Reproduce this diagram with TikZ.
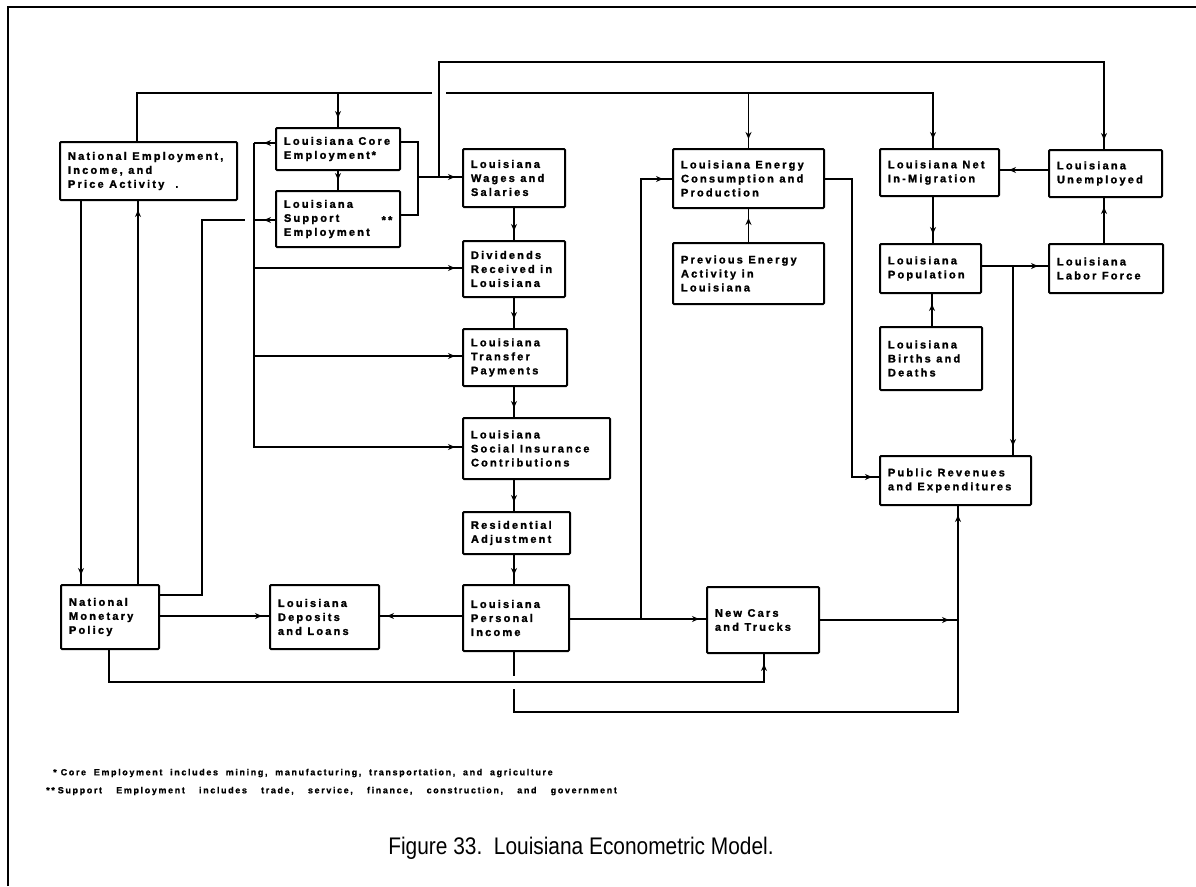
\documentclass[tikz,border=0pt]{standalone}
\usepackage{fontspec}
\setmainfont{Liberation Sans}
\newfontfamily\boxfont{Liberation Sans Bold}[LetterSpace=20, FakeBold=1.5]
\newfontfamily\fnfont{Liberation Sans Bold}[LetterSpace=18, FakeBold=1]
\newcommand\wsp{\hspace{5.5pt}}
\usetikzlibrary{arrows.meta,decorations.markings}
\newcommand\boxat[6]{%
  \pgfmathsetmacro\bxW{#4-#2}%
  \pgfmathsetmacro\bxH{#5-#3}%
  \pgfmathsetmacro\bxT{#4-#2-16}%
  \node[box, anchor=north west, minimum width=\bxW pt, minimum height=\bxH pt, text width=\bxT pt] (#1) at (#2,#3) {#6};}
\begin{document}
\begin{tikzpicture}[x=1pt,y=-1pt,
  box/.style={draw, line width=2pt, rectangle, rounded corners=1pt, inner sep=2pt, align=left,
    font={\boxfont\fontsize{11pt}{14pt}\selectfont}},
  conn/.style={line width=1.5pt},
  arr/.style={postaction={decorate}, decoration={markings, mark=at position -#1 with {\arrow{Stealth[length=7pt,width=6pt]}}}},
  arr/.default=7pt,
  fn/.style={font={\fnfont\fontsize{9pt}{10pt}\selectfont}, inner sep=0pt},
  captext/.style={font={\fontsize{24pt}{28pt}\selectfont}, inner sep=0pt}]
\useasboundingbox (0,0) rectangle (1196,886);
\fill[white] (0,0) rectangle (1196,886);
% frame
\draw[line width=2.2pt] (8,886) -- (8,7) -- (1196,7);
% boxes
\boxat{NatEmp}{59}{141}{236}{199}{National\wsp Employment,\\Income,\wsp and\\Price\wsp Activity\wsp\wsp .}
\boxat{Core}{275}{127}{399}{169}{Louisiana\wsp Core\\Employment\,*}
\boxat{Support}{275}{190}{399}{246}{Louisiana\\Support\\Employment}
\boxat{Wages}{462}{148}{564}{206}{Louisiana\\Wages\wsp and\\Salaries}
\boxat{Dividends}{462}{240}{564}{296}{Dividends\\Received\wsp in\\Louisiana}
\boxat{Transfer}{462}{328}{566}{385}{Louisiana\\Transfer\\Payments}
\boxat{Social}{462}{417}{609}{478}{Louisiana\\Social\wsp Insurance\\Contributions}
\boxat{Residential}{462}{511}{569}{553}{Residential\\Adjustment}
\boxat{PI}{462}{584}{568}{650}{Louisiana\\Personal\\Income}
\boxat{NMP}{60}{584}{158}{648}{National\\Monetary\\Policy}
\boxat{Deposits}{269}{584}{378}{648}{Louisiana\\Deposits\\and\wsp Loans}
\boxat{NewCars}{706}{586}{818}{652}{New\wsp Cars\\and\wsp Trucks}
\boxat{Energy}{672}{148}{823}{207}{Louisiana\wsp Energy\\Consumption\wsp and\\Production}
\boxat{PrevEnergy}{672}{242}{823}{303}{Previous\wsp Energy\\Activity\wsp in\\Louisiana}
\boxat{NetMig}{879}{148}{998}{195}{Louisiana\wsp Net\\In-Migration}
\boxat{Unemployed}{1048}{149}{1161}{196}{Louisiana\\Unemployed}
\boxat{Population}{879}{243}{980}{292}{Louisiana\\Population}
\boxat{LaborForce}{1048}{243}{1162}{292}{Louisiana\\Labor\wsp Force}
\boxat{Births}{879}{326}{981}{389}{Louisiana\\Births\wsp and\\Deaths}
\boxat{PubRev}{879}{455}{1030}{504}{Public\wsp Revenues\\and\wsp Expenditures}
\node[font={\boxfont\fontsize{11pt}{14pt}\selectfont}, inner sep=0pt] (ast2) at (387,220) {**};
% national employment bus
\draw[conn] (NatEmp.north -| 137,0) -- (137,93) -- (432,93);
\draw[conn,arr=9pt] (446,93) -- (933,93) -- (NetMig.north -| 933,0);
\draw[conn,arr=9pt] (Core.north |- 0,93) -- (Core.north);
\draw[conn,arr=9pt] (Energy.north |- 0,93) -- (Energy.north);
% core / support loop
\draw[conn] (Core.east |- 0,142) -| (418,215) -- (Support.east |- 0,215);
\draw[conn,arr] (418,177) -- (Wages.west |- 0,177);
\draw[conn,arr=9pt] (439,177) -- (439,62) -| (Unemployed.north -| 1104,0);
\draw[conn,arr=10pt] (Core.south) -- (Support.north);
% left bus
\draw[conn,arr=10pt] (Core.west |- 0,143) -- (254,143);
\draw[conn,arr=10pt] (Support.west |- 0,220) -- (254,220);
\draw[conn,arr] (254,143) -- (254,447) -- (Social.west |- 0,447);
\draw[conn,arr] (254,268) -- (Dividends.west |- 0,268);
\draw[conn,arr] (254,356) -- (Transfer.west |- 0,356);
\coordinate (nmpEnd) at (245,220);
\draw[conn] (NMP.east |- 0,595) -| (202,220) -- (nmpEnd);
% national employment <-> monetary policy
\draw[conn,arr=9pt] (NatEmp.south -| 81,0) -- (NMP.north -| 81,0);
\draw[conn,arr=9pt] (NMP.north -| 138,0) -- (NatEmp.south -| 138,0);
% income chain
\draw[conn,arr=9pt] (Wages.south -| 514,0) -- (Dividends.north -| 514,0);
\draw[conn,arr=9pt] (Dividends.south -| 514,0) -- (Transfer.north -| 514,0);
\draw[conn,arr=9pt] (Transfer.south -| 514,0) -- (Social.north -| 514,0);
\draw[conn,arr=9pt] (Social.south -| 514,0) -- (Residential.north -| 514,0);
\draw[conn,arr=9pt] (Residential.south -| 514,0) -- (PI.north -| 514,0);
% bottom row
\draw[conn,arr] (NMP.east |- 0,616) -- (Deposits.west |- 0,616);
\draw[conn,arr] (PI.west |- 0,616) -- (Deposits.east |- 0,616);
\draw[conn,arr] (PI.east |- 0,619) -- (NewCars.west |- 0,619);
\draw[conn,arr=9pt] (641,619) |- (Energy.west |- 0,179);
\coordinate (pj) at (958,620);
\draw[conn,arr=9pt] (NewCars.east |- 0,620) -- (pj);
\draw[conn] (PI.south -| 514,0) -- (514,676);
\draw[conn,arr=9pt] (514,689) -- (514,712) -| (PubRev.south -| 958,0);
\draw[conn,arr=10pt] (NMP.south -| 109,0) |- (764,682) -- (NewCars.south -| 764,0);
% energy
\draw[conn,arr] (Energy.east |- 0,179) -| (852,477) -- (PubRev.west |- 0,477);
\draw[conn,arr=9pt] (PrevEnergy.north) -- (Energy.south);
% population block
\draw[conn,arr=9pt] (Unemployed.west |- 0,170) -- (NetMig.east |- 0,170);
\draw[conn,arr=9pt] (NetMig.south -| 933,0) -- (Population.north -| 933,0);
\draw[conn,arr=9pt] (LaborForce.north -| 1104,0) -- (Unemployed.south -| 1104,0);
\draw[conn,arr=10pt] (Population.east |- 0,266) -- (LaborForce.west |- 0,266);
\draw[conn,arr=9pt] (1013,266) -- (PubRev.north -| 1013,0);
\draw[conn,arr=10pt] (Births.north -| 932,0) -- (Population.south -| 932,0);
% footnotes
\node[fn, anchor=west] (fn1) at (53,773) {*\hspace{4pt}\makebox[492pt]{Core\hfill Employment\hfill includes\hfill mining,\hfill manufacturing,\hfill transportation,\hfill and\hfill agriculture}};
\node[fn, anchor=west] (fn2) at (46,791) {**\hspace{3pt}\makebox[559pt]{Support\hfill Employment\hfill includes\hfill trade,\hfill service,\hfill finance,\hfill construction,\hfill and\hfill government}};
% caption
\node[captext] (caption) at (581,848) {\scalebox{0.87}[1]{Figure 33.\ \ Louisiana Econometric Model.}};
\end{tikzpicture}
\end{document}
